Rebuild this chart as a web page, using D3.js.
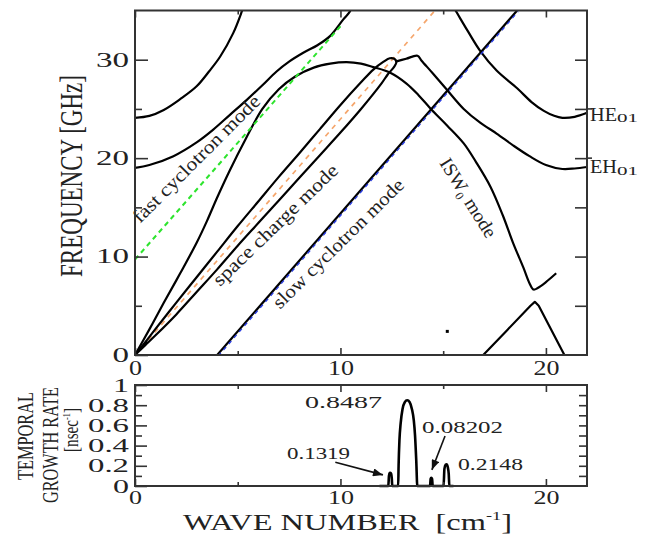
<!DOCTYPE html>
<html>
<head>
<meta charset="utf-8">
<script src="https://cdn.jsdelivr.net/npm/d3@7"></script>
<style>
  body { margin: 0; background: #fff; }
  svg text { font-family: "Liberation Serif", "Times New Roman", serif; fill: #222; }
</style>
</head>
<body>
<svg id="chart" width="652" height="534"></svg>
<script>
"use strict";

// dispersion curves: [wave number cm^-1, frequency GHz]
const he01Left = [[0, 24.1], [0.7, 24.3], [1.4, 24.9], [2.2, 26.0], [3.0, 27.3], [3.6, 28.8],
  [4.14, 30.3], [4.78, 32.7], [5.2, 34.9], [5.3, 35.5]];
const he01Right = [[15.45, 35.5], [15.6, 35], [16.2, 32.9], [16.8, 30.9], [17.6, 28.9], [18.6, 27.1],
  [19.3, 25.7], [19.9, 24.8], [20.4, 24.3], [20.8, 24.1], [21.4, 24.2], [22, 24.6]];
const eh01Left = [[0, 19.0], [0.7, 19.3], [1.87, 20.2], [3.0, 21.6], [3.81, 22.9], [4.62, 24.4],
  [5.43, 25.9], [6.2, 27.4], [6.89, 28.8], [7.5, 29.8], [8.19, 30.7], [8.9, 31.5], [9.49, 32.4],
  [10.14, 34.1], [10.46, 34.9], [10.55, 35.5]];
const eh01Right = [[12.68, 29.8], [13.2, 30.1], [13.75, 30.4], [13.95, 29.9], [14.5, 28.6],
  [15.2, 26.9], [16.0, 25.0], [16.8, 23.6], [17.6, 22.5], [18.4, 21.3], [19.2, 20.2],
  [20.0, 19.3], [20.8, 18.9], [21.4, 18.95], [22, 19.1]];
const isw0 = [[0, 0], [0.7, 2.6], [1.4, 5.3], [2.2, 8.3], [3.0, 11.4], [3.5, 13.6], [4.0, 16.0],
  [4.6, 18.7], [5.4, 22.0], [6.2, 25.0], [7.0, 27.0], [7.8, 28.3], [8.7, 29.2], [9.5, 29.6],
  [10.3, 29.75], [11.0, 29.6], [11.6, 29.25], [12.4, 28.7], [13.2, 27.6], [13.8, 26.4],
  [14.4, 25.0], [15.2, 23.3], [16.0, 21.5], [16.6, 19.6], [17.3, 17.1], [17.9, 14.2],
  [18.4, 11.4], [18.9, 8.9], [19.2, 7.3], [19.4, 6.65], [19.6, 6.8], [20.0, 7.4], [20.5, 8.3]];
const isw1 = [[16.95, 0], [18.1, 2.5], [19.25, 5.0], [19.46, 5.4], [19.65, 5.0], [20.9, 0]];
const spaceCharge = [[0, 0], [0.5, 1.3], [1, 2.65], [2, 5.3], [3, 7.9], [4, 10.5], [5, 13.1],
  [6, 15.6], [7, 18.1], [8, 20.5], [9, 22.95], [10, 25.4], [11, 27.7], [11.6, 29.0], [12.1, 29.8],
  [12.4, 30.15], [12.62, 30.1], [12.72, 29.75], [12.62, 29.3], [12.3, 28.5], [12, 27.6],
  [11, 25.0], [10, 22.6], [9, 20.3], [8, 18.0], [7, 15.7], [6, 13.4], [5, 11.1], [4, 8.7],
  [3, 6.4], [2, 4.1], [1, 2.0], [0.5, 1.0], [0, 0]];
const fastCyclotron = [[0, 9.7], [10, 33.4]];
const beamLine = [[0, 0], [14.6, 35]];
const slowCyclotron = [[4.0, 0], [18.6, 35]];
const strayPoint = [[15.2, 2.4]];

// temporal growth rate [nsec^-1]
const growth = [[11.9, 0], [12.33, 0], [12.36, 0.1], [12.40, 0.13], [12.43, 0.1319],
  [12.47, 0.12], [12.5, 0.07], [12.52, 0], [12.81, 0], [12.83, 0.2], [12.87, 0.45],
  [12.93, 0.62], [13.02, 0.76], [13.13, 0.83], [13.25, 0.8487], [13.37, 0.83], [13.48, 0.76],
  [13.57, 0.65], [13.63, 0.5], [13.69, 0.25], [13.74, 0], [14.36, 0], [14.39, 0.07],
  [14.42, 0.08202], [14.46, 0.07], [14.49, 0], [15.02, 0], [15.06, 0.17], [15.12, 0.21],
  [15.17, 0.2148], [15.22, 0.19], [15.27, 0.12], [15.3, 0], [15.5, 0]];

const xMajor = [0, 10, 20];
const xMinor = [5, 15];
const freqMajor = [0, 10, 20, 30];
const freqMinor = [5, 15, 25];
const freqRight = [5, 10, 15, 20, 25, 30];
const growthMajor = [0, 0.2, 0.4, 0.6, 0.8, 1];
const growthMinor = [0.1, 0.3, 0.5, 0.7, 0.9];
const growthRight = [0.1, 0.2, 0.3, 0.4, 0.5, 0.6, 0.7, 0.8, 0.9];
const growthTickLabels = ["0", "0.2", "0.4", "0.6", "0.8", "1"];

// peak values with label position and arrow (wave number, rate)
const peakNotes = [
  { text: "0.8487", k: 8.27, v: 0.772, len: 77 },
  { text: "0.1319", k: 7.40, v: 0.267, len: 63, arrow: [[9.75, 0.235], [12.07, 0.11]] },
  { text: "0.08202", k: 13.97, v: 0.525, len: 81, arrow: [[15.09, 0.495], [14.45, 0.16]] },
  { text: "0.2148", k: 15.72, v: 0.158, len: 65 }
];

const svg = d3.select("#chart");

const x = d3.scaleLinear().domain([0, 22]).range([135, 587]);
const yTop = d3.scaleLinear().domain([0, 35]).range([355, 10.5]);
const yBot = d3.scaleLinear().domain([0, 1]).range([486, 385]);

function stretch(sel, digitW, dotW) {
  sel.attr("textLength", function () {
    let t = this.textContent;
    let dots = t.split(".").length - 1;
    return (t.length - dots) * digitW + dots * dotW;
  }).attr("lengthAdjust", "spacingAndGlyphs");
}

function axis(gen, at, values, size, opts) {
  opts = opts || {};
  gen.tickValues(values).tickSizeInner(size).tickSizeOuter(0).tickPadding(opts.pad || 6);
  if (opts.format) {
    gen.tickFormat(opts.format);
  } else if (!opts.labels) {
    gen.tickFormat("");
  }
  let g = svg.append("g").attr("transform", at).call(gen);
  g.select(".domain").remove();
  g.selectAll("line").attr("stroke", "#333").attr("stroke-width", 1.6);
  g.selectAll("text").style("font-family", '"Liberation Serif", serif')
    .style("font-size", (opts.fs || 20) + "px").attr("fill", "#222");
  return g;
}

// ---- top panel ----
svg.append("clipPath").attr("id", "clipTop").append("rect")
  .attr("x", x(0)).attr("y", yTop(35)).attr("width", x(22) - x(0)).attr("height", yTop(0) - yTop(35));

let plot = svg.append("g").attr("clip-path", "url(#clipTop)");

let line = d3.line().x(d => x(d[0])).y(d => yTop(d[1])).curve(d3.curveCatmullRom.alpha(0.5));
let straight = d3.line().x(d => x(d[0])).y(d => yTop(d[1]));

plot.append("path").attr("d", straight(beamLine))
  .attr("fill", "none").attr("stroke", "#f5a66c").attr("stroke-width", 1.7)
  .attr("stroke-dasharray", "5,5");

[he01Left, he01Right, eh01Left, eh01Right, isw0, spaceCharge].forEach(function (c) {
  plot.append("path").attr("d", line(c))
    .attr("fill", "none").attr("stroke", "#000").attr("stroke-width", 2.2);
});
plot.append("path").attr("d", straight(isw1))
  .attr("fill", "none").attr("stroke", "#000").attr("stroke-width", 2.2)
  .attr("stroke-linejoin", "round");

plot.append("path").attr("d", straight(slowCyclotron))
  .attr("fill", "none").attr("stroke", "#000").attr("stroke-width", 2.2);
plot.append("path").attr("d", straight(slowCyclotron))
  .attr("transform", "translate(1,1)")
  .attr("fill", "none").attr("stroke", "#2a3de0").attr("stroke-width", 1.4)
  .attr("stroke-dasharray", "4,4");

plot.append("path").attr("d", straight(fastCyclotron))
  .attr("fill", "none").attr("stroke", "#2ee42e").attr("stroke-width", 2)
  .attr("stroke-dasharray", "5,4");

plot.selectAll("rect.stray").data(strayPoint).enter().append("rect")
  .attr("class", "stray")
  .attr("x", d => x(d[0]) - 1.5).attr("y", d => yTop(d[1]) - 1.5)
  .attr("width", 3).attr("height", 3).attr("fill", "#000");

// mode labels
function modeLabel(k, f, angle, len, parts) {
  let t = svg.append("text")
    .attr("transform", "translate(" + x(k) + "," + yTop(f) + ") rotate(" + angle + ")")
    .style("font-size", "19px").attr("fill", "#444")
    .attr("textLength", len).attr("lengthAdjust", "spacingAndGlyphs");
  parts.forEach(function (p) {
    let s = t.append("tspan").text(p.t);
    if (p.dy) s.attr("dy", p.dy);
    if (p.fs) s.style("font-size", p.fs + "px");
  });
}
modeLabel(0.24, 13.3, -45, 172, [{ t: "fast cyclotron mode" }]);
modeLabel(4.14, 6.9, -44, 166, [{ t: "space charge mode" }]);
modeLabel(7.06, 4.6, -44.6, 176, [{ t: "slow cyclotron mode" }]);
modeLabel(14.8, 19.5, 58, 90, [{ t: "ISW" }, { t: "0", dy: 4, fs: 12 }, { t: "\u00a0mode", dy: -4 }]);

// frame + axes
svg.append("rect").attr("x", x(0)).attr("y", yTop(35)).attr("width", x(22) - x(0))
  .attr("height", yTop(0) - yTop(35)).attr("fill", "none").attr("stroke", "#333").attr("stroke-width", 2);

let gl = axis(d3.axisLeft(yTop), "translate(" + x(0) + ",0)", freqMajor, -13, { labels: true });
stretch(gl.selectAll("text"), 16.5, 8);
axis(d3.axisLeft(yTop), "translate(" + x(0) + ",0)", freqMinor, -7);
axis(d3.axisRight(yTop), "translate(" + x(22) + ",0)", freqRight, -12);
let gb = axis(d3.axisBottom(x), "translate(0," + yTop(0) + ")", xMajor, -7, { labels: true, pad: 6 });
stretch(gb.selectAll("text"), 13, 7);
axis(d3.axisBottom(x), "translate(0," + yTop(0) + ")", xMinor, -4);
axis(d3.axisTop(x), "translate(0," + yTop(35) + ")", xMajor, -7);
axis(d3.axisTop(x), "translate(0," + yTop(35) + ")", xMinor, -4);

// waveguide mode names at the right edge
[["HE", 24.5, 121, 122, 25], ["EH", 19.8, 173, 175, 20]].forEach(function (m) {
  svg.append("line").attr("x1", x(22)).attr("x2", x(22) + 5)
    .attr("y1", yTop(m[4])).attr("y2", yTop(m[4])).attr("stroke", "#333").attr("stroke-width", 1.6);
  svg.append("text").attr("x", x(22) + 3).attr("y", m[2]).text(m[0])
    .style("font-size", "19px").attr("textLength", 27).attr("lengthAdjust", "spacingAndGlyphs");
  svg.append("text").attr("x", x(22) + 30).attr("y", m[3]).text("01")
    .style("font-size", "12px").attr("textLength", 21).attr("lengthAdjust", "spacingAndGlyphs");
});

// y title
svg.append("text").attr("transform", "translate(82,277) rotate(-90)")
  .style("font-size", "31px").attr("textLength", 202).attr("lengthAdjust", "spacingAndGlyphs")
  .text("FREQUENCY [GHz]");

// ---- bottom panel ----
let gline = d3.line().x(d => x(d[0])).y(d => yBot(d[1])).curve(d3.curveMonotoneX);
svg.append("path").attr("d", gline(growth))
  .attr("fill", "none").attr("stroke", "#000").attr("stroke-width", 2.6);

svg.append("rect").attr("x", x(0)).attr("y", yBot(1)).attr("width", x(22) - x(0))
  .attr("height", yBot(0) - yBot(1)).attr("fill", "none").attr("stroke", "#333").attr("stroke-width", 2);

let bl = axis(d3.axisLeft(yBot), "translate(" + x(0) + ",0)", growthMajor, -12,
  { format: (d, i) => growthTickLabels[i], fs: 19 });
stretch(bl.selectAll("text"), 16, 9);
axis(d3.axisLeft(yBot), "translate(" + x(0) + ",0)", growthMinor, -7);
axis(d3.axisRight(yBot), "translate(" + x(22) + ",0)", growthRight, -8);
let bb = axis(d3.axisBottom(x), "translate(0," + yBot(0) + ")", xMajor, -7, { labels: true, pad: 5, fs: 19 });
stretch(bb.selectAll("text"), 13, 7);
axis(d3.axisBottom(x), "translate(0," + yBot(0) + ")", xMinor, -4);
axis(d3.axisTop(x), "translate(0," + yBot(1) + ")", xMajor, -7);
axis(d3.axisTop(x), "translate(0," + yBot(1) + ")", xMinor, -4);

svg.append("defs").append("marker").attr("id", "head")
  .attr("viewBox", "0 0 10 8").attr("refX", 10).attr("refY", 4)
  .attr("markerWidth", 11).attr("markerHeight", 8).attr("markerUnits", "userSpaceOnUse")
  .attr("orient", "auto")
  .append("path").attr("d", "M0,0 L10,4 L0,8 Z").attr("fill", "#111");

peakNotes.forEach(function (n) {
  svg.append("text").attr("x", x(n.k)).attr("y", yBot(n.v)).text(n.text)
    .style("font-size", "17px").attr("textLength", n.len).attr("lengthAdjust", "spacingAndGlyphs");
  if (n.arrow) {
    svg.append("line")
      .attr("x1", x(n.arrow[0][0])).attr("y1", yBot(n.arrow[0][1]))
      .attr("x2", x(n.arrow[1][0])).attr("y2", yBot(n.arrow[1][1]))
      .attr("stroke", "#111").attr("stroke-width", 1.6).attr("marker-end", "url(#head)");
  }
});

// bottom titles
let yt = [["TEMPORAL", 33, 480, 88], ["GROWTH RATE", 58, 503, 116]];
yt.forEach(function (t) {
  svg.append("text").attr("transform", "translate(" + t[1] + "," + t[2] + ") rotate(-90)")
    .style("font-size", "23px").attr("textLength", t[3]).attr("lengthAdjust", "spacingAndGlyphs")
    .text(t[0]);
});
let unit = svg.append("text").attr("transform", "translate(78,452) rotate(-90)")
  .style("font-size", "20px").attr("textLength", 44).attr("lengthAdjust", "spacingAndGlyphs");
unit.append("tspan").text("[nsec");
unit.append("tspan").text("-1").attr("dy", -8).style("font-size", "11px");
unit.append("tspan").text("]").attr("dy", 8);

let xt = svg.append("text").attr("x", 183).attr("y", 529.5)
  .style("font-size", "23px").attr("textLength", 329).attr("lengthAdjust", "spacingAndGlyphs");
xt.append("tspan").text("WAVE NUMBER\u00a0\u00a0[cm");
xt.append("tspan").text("-1").attr("dy", -10).style("font-size", "13px");
xt.append("tspan").text("]").attr("dy", 10);
</script>
</body>
</html>
